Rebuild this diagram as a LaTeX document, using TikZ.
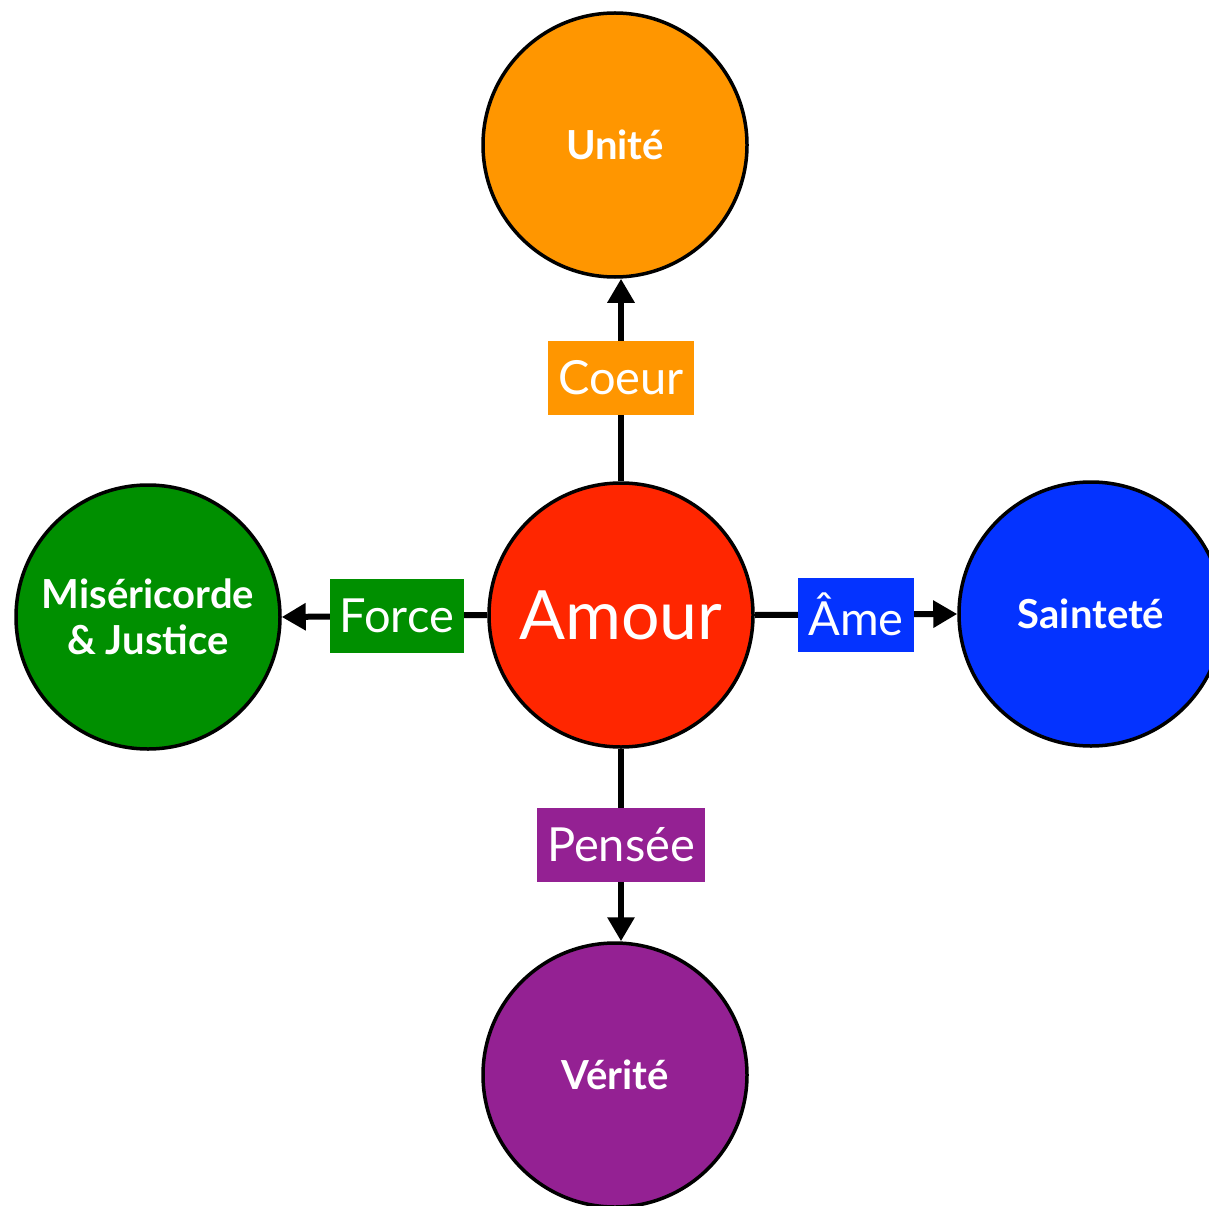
\documentclass[tikz,border=0pt]{standalone}
\usepackage{fontspec}
\setmainfont{Lato}
\usetikzlibrary{arrows.meta}
\definecolor{cOr}{HTML}{FF9600}
\definecolor{cRe}{HTML}{FF2600}
\definecolor{cBl}{HTML}{0433FF}
\definecolor{cGr}{HTML}{008F00}
\definecolor{cPu}{HTML}{942193}
\tikzset{
  circ/.style={circle, draw=black, line width=3.5pt, minimum size=264pt, inner sep=0pt, text=white, align=center},
  small/.style={font=\fontsize{40}{46}\selectfont\bfseries},
  lbl/.style={text=white, font=\fontsize{47}{50}\selectfont, minimum height=74pt, inner xsep=10pt, inner ysep=0pt},
  arr/.style={line width=6pt, -{Triangle[length=24pt,width=26pt]}}
}
\begin{document}
\begin{tikzpicture}[x=1pt,y=-1pt]
\useasboundingbox (0,0) rectangle (1209,1206);
\clip (0,0) rectangle (1209,1206);
\node[circ, fill=cRe, font=\fontsize{68}{70}\selectfont] (am) at (621,615) {Amour};
\node[circ, fill=cOr, small] (un) at (615,145) {Unité};
\node[circ, fill=cBl, small] (sa) at (1091,614) {Sainteté};
\node[circ, fill=cGr, small] (mi) at (148,617) {Miséricorde\\\& Justice};
\node[circ, fill=cPu, small] (ve) at (615,1075) {Vérité};
\draw[arr] (am.north) -- node[lbl, fill=cOr, pos=0.51] (lc) {Coeur} (am.north |- un.south);
\draw[arr] (am.west) -- node[lbl, fill=cGr, pos=0.44] (lf) {Force} (mi.east);
\draw[arr] (am.east) -- node[lbl, fill=cBl, pos=0.5] (la) {Âme} (sa.west);
\draw[arr] (am.south) -- node[lbl, fill=cPu, pos=0.5] (lp) {Pensée} (am.south |- ve.north);
\end{tikzpicture}
\end{document}
